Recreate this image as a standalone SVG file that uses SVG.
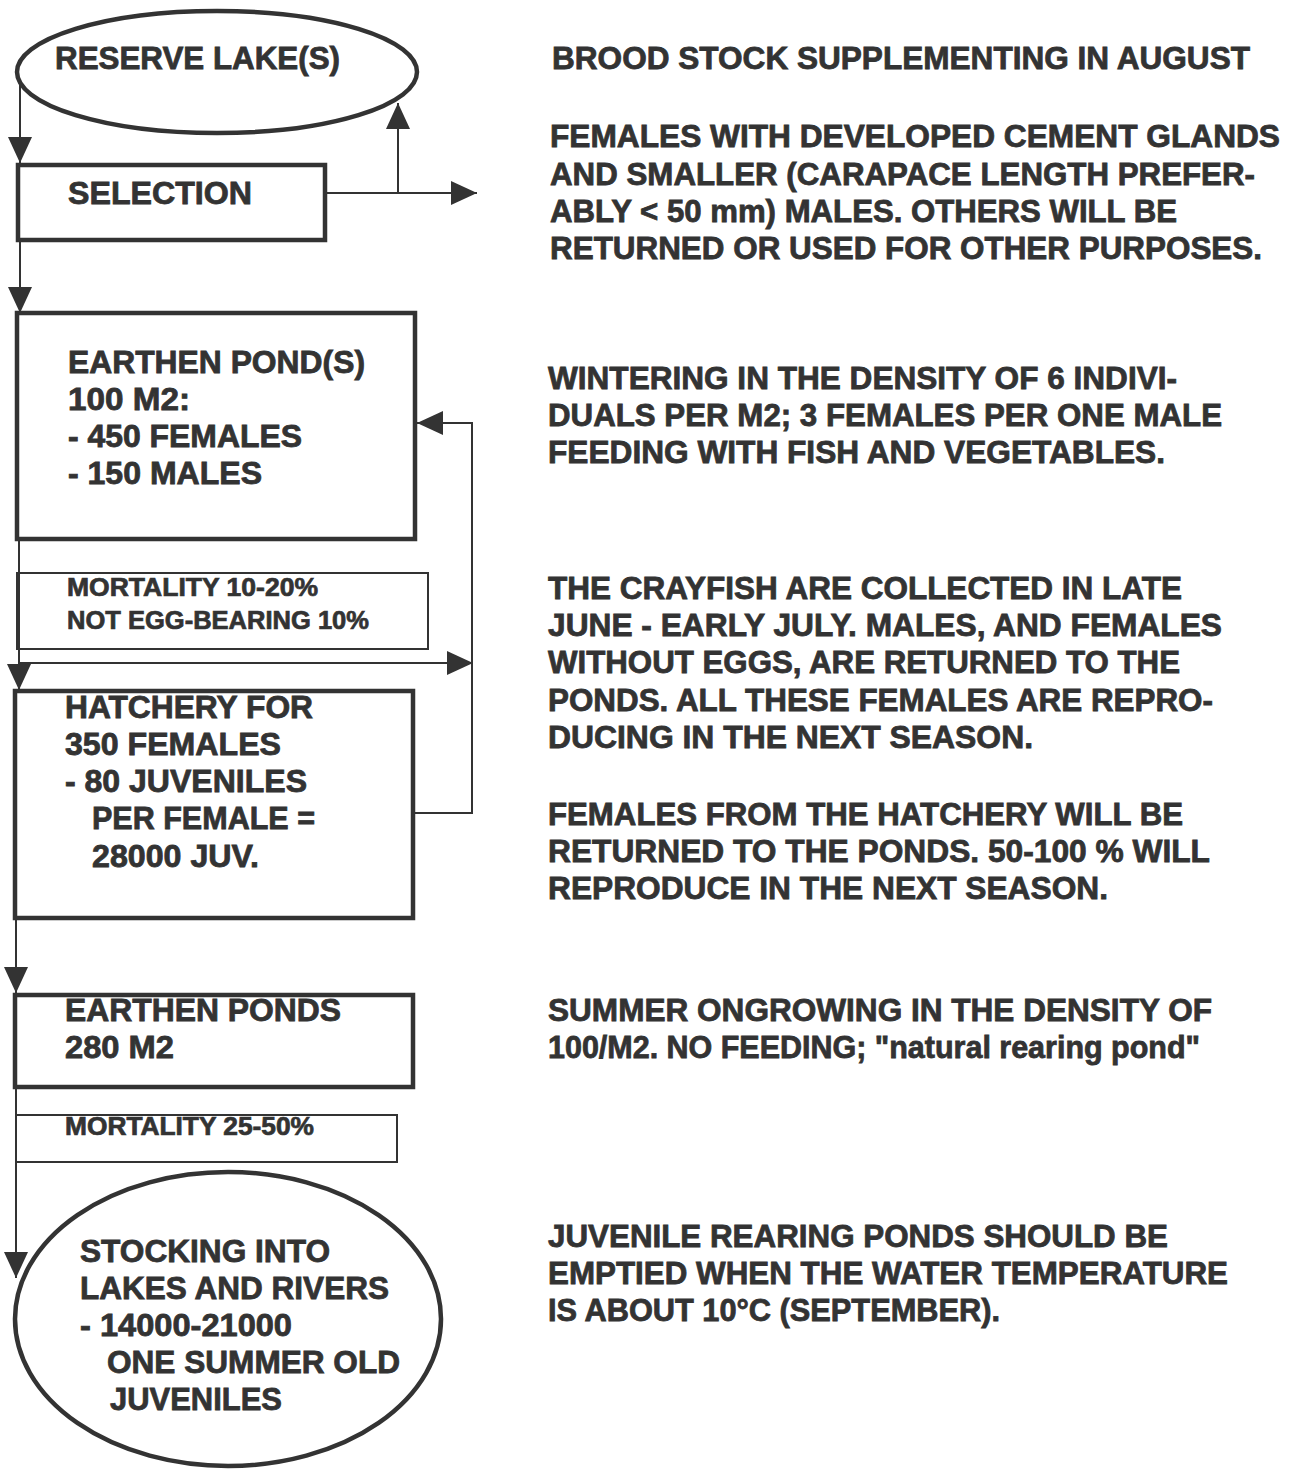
<svg xmlns="http://www.w3.org/2000/svg" width="1290" height="1470" viewBox="0 0 1290 1470">
<style>
.t{font-family:"Liberation Sans",Arial,sans-serif;font-weight:bold;fill:#333;stroke:#333;stroke-width:0.8;font-size:31.5px}
.s{font-size:25px;stroke-width:0.7}
.node{fill:none;stroke:#333;stroke-width:4.5}
.thin{fill:none;stroke:#333;stroke-width:2}
.c{fill:none;stroke:#333;stroke-width:2}
</style>
<defs>
<marker id="ah" markerUnits="userSpaceOnUse" markerWidth="26" markerHeight="24" refX="26" refY="12" orient="auto">
<path d="M0,0 L26,12 L0,24 Z" fill="#333"/>
</marker>
</defs>
<rect width="1290" height="1470" fill="#fff"/>

<g id="connectors">
<path class="c" d="M20,80 V163" marker-end="url(#ah)"/>
<path class="c" d="M325,193 H477" marker-end="url(#ah)"/>
<path class="c" d="M398,193 V103" marker-end="url(#ah)"/>
<path class="c" d="M20,240 V313" marker-end="url(#ah)"/>
<path class="c" d="M19,538 V690" marker-end="url(#ah)"/>
<path class="c" d="M19,663 H473" marker-end="url(#ah)"/>
<path class="c" d="M415,813 H472 V423 H417" marker-end="url(#ah)"/>
<path class="c" d="M16,918 V993" marker-end="url(#ah)"/>
<path class="c" d="M16,1087 V1278" marker-end="url(#ah)"/>
</g>

<g id="reserve-lake">
<ellipse class="node" cx="217" cy="72" rx="200" ry="61"/>
<text class="t" x="55" y="69" textLength="285" lengthAdjust="spacingAndGlyphs">RESERVE LAKE(S)</text>
</g>

<g id="selection">
<rect class="node" x="18" y="165" width="307" height="75"/>
<text class="t" x="68" y="204" textLength="184" lengthAdjust="spacingAndGlyphs">SELECTION</text>
</g>

<g id="earthen-ponds-1">
<rect class="node" x="17" y="313" width="398" height="226"/>
<text class="t" x="68" y="373" textLength="297" lengthAdjust="spacingAndGlyphs">EARTHEN POND(S)</text>
<text class="t" x="68" y="410" textLength="122" lengthAdjust="spacingAndGlyphs">100 M2:</text>
<text class="t" x="68" y="447" textLength="234" lengthAdjust="spacingAndGlyphs">- 450 FEMALES</text>
<text class="t" x="68" y="484" textLength="194" lengthAdjust="spacingAndGlyphs">- 150 MALES</text>
</g>

<g id="mortality-1">
<rect class="thin" x="17" y="573" width="411" height="76"/>
<text class="t s" x="67" y="596" textLength="251" lengthAdjust="spacingAndGlyphs">MORTALITY 10-20%</text>
<text class="t s" x="67" y="629" textLength="302" lengthAdjust="spacingAndGlyphs">NOT EGG-BEARING 10%</text>
</g>

<g id="hatchery">
<rect class="node" x="15" y="691" width="398" height="227"/>
<text class="t" x="65" y="718" textLength="248" lengthAdjust="spacingAndGlyphs">HATCHERY FOR</text>
<text class="t" x="65" y="755" textLength="216" lengthAdjust="spacingAndGlyphs">350 FEMALES</text>
<text class="t" x="65" y="792" textLength="242" lengthAdjust="spacingAndGlyphs">- 80 JUVENILES</text>
<text class="t" x="92" y="829" textLength="223" lengthAdjust="spacingAndGlyphs">PER FEMALE =</text>
<text class="t" x="92" y="867" textLength="167" lengthAdjust="spacingAndGlyphs">28000 JUV.</text>
</g>

<g id="earthen-ponds-2">
<rect class="node" x="15" y="995" width="398" height="92"/>
<text class="t" x="65" y="1021" textLength="276" lengthAdjust="spacingAndGlyphs">EARTHEN PONDS</text>
<text class="t" x="65" y="1058" textLength="109" lengthAdjust="spacingAndGlyphs">280 M2</text>
</g>

<g id="mortality-2">
<rect class="thin" x="16" y="1115" width="381" height="47"/>
<text class="t s" x="65" y="1135" textLength="249" lengthAdjust="spacingAndGlyphs">MORTALITY 25-50%</text>
</g>

<g id="stocking">
<ellipse class="node" cx="228" cy="1319" rx="213" ry="147"/>
<text class="t" x="80" y="1262" textLength="250" lengthAdjust="spacingAndGlyphs">STOCKING INTO</text>
<text class="t" x="80" y="1299" textLength="309" lengthAdjust="spacingAndGlyphs">LAKES AND RIVERS</text>
<text class="t" x="80" y="1336" textLength="212" lengthAdjust="spacingAndGlyphs">- 14000-21000</text>
<text class="t" x="107" y="1373" textLength="293" lengthAdjust="spacingAndGlyphs">ONE SUMMER OLD</text>
<text class="t" x="110" y="1410" textLength="172" lengthAdjust="spacingAndGlyphs">JUVENILES</text>
</g>

<g id="notes">
<text class="t" x="552" y="69" textLength="698" lengthAdjust="spacingAndGlyphs">BROOD STOCK SUPPLEMENTING IN AUGUST</text>
<text class="t" x="550" y="147" textLength="730" lengthAdjust="spacingAndGlyphs">FEMALES WITH DEVELOPED CEMENT GLANDS</text>
<text class="t" x="550" y="185" textLength="705" lengthAdjust="spacingAndGlyphs">AND SMALLER (CARAPACE LENGTH PREFER-</text>
<text class="t" x="550" y="222" textLength="627" lengthAdjust="spacingAndGlyphs">ABLY &lt; 50 mm) MALES. OTHERS WILL BE</text>
<text class="t" x="550" y="259" textLength="712" lengthAdjust="spacingAndGlyphs">RETURNED OR USED FOR OTHER PURPOSES.</text>

<text class="t" x="548" y="389" textLength="629" lengthAdjust="spacingAndGlyphs">WINTERING IN THE DENSITY OF 6 INDIVI-</text>
<text class="t" x="548" y="426" textLength="674" lengthAdjust="spacingAndGlyphs">DUALS PER M2; 3 FEMALES PER ONE MALE</text>
<text class="t" x="548" y="463" textLength="617" lengthAdjust="spacingAndGlyphs">FEEDING WITH FISH AND VEGETABLES.</text>

<text class="t" x="548" y="599" textLength="634" lengthAdjust="spacingAndGlyphs">THE CRAYFISH ARE COLLECTED IN LATE</text>
<text class="t" x="548" y="636" textLength="674" lengthAdjust="spacingAndGlyphs">JUNE - EARLY JULY. MALES, AND FEMALES</text>
<text class="t" x="548" y="673" textLength="632" lengthAdjust="spacingAndGlyphs">WITHOUT EGGS, ARE RETURNED TO THE</text>
<text class="t" x="548" y="711" textLength="665" lengthAdjust="spacingAndGlyphs">PONDS. ALL THESE FEMALES ARE REPRO-</text>
<text class="t" x="548" y="748" textLength="485" lengthAdjust="spacingAndGlyphs">DUCING IN THE NEXT SEASON.</text>

<text class="t" x="548" y="825" textLength="635" lengthAdjust="spacingAndGlyphs">FEMALES FROM THE HATCHERY WILL BE</text>
<text class="t" x="548" y="862" textLength="662" lengthAdjust="spacingAndGlyphs">RETURNED TO THE PONDS. 50-100 % WILL</text>
<text class="t" x="548" y="899" textLength="560" lengthAdjust="spacingAndGlyphs">REPRODUCE IN THE NEXT SEASON.</text>

<text class="t" x="548" y="1021" textLength="664" lengthAdjust="spacingAndGlyphs">SUMMER ONGROWING IN THE DENSITY OF</text>
<text class="t" x="548" y="1058" textLength="652" lengthAdjust="spacingAndGlyphs">100/M2. NO FEEDING; "natural rearing pond"</text>

<text class="t" x="548" y="1247" textLength="620" lengthAdjust="spacingAndGlyphs">JUVENILE REARING PONDS SHOULD BE</text>
<text class="t" x="548" y="1284" textLength="680" lengthAdjust="spacingAndGlyphs">EMPTIED WHEN THE WATER TEMPERATURE</text>
<text class="t" x="548" y="1321" textLength="452" lengthAdjust="spacingAndGlyphs">IS ABOUT 10°C (SEPTEMBER).</text>
</g>
</svg>
